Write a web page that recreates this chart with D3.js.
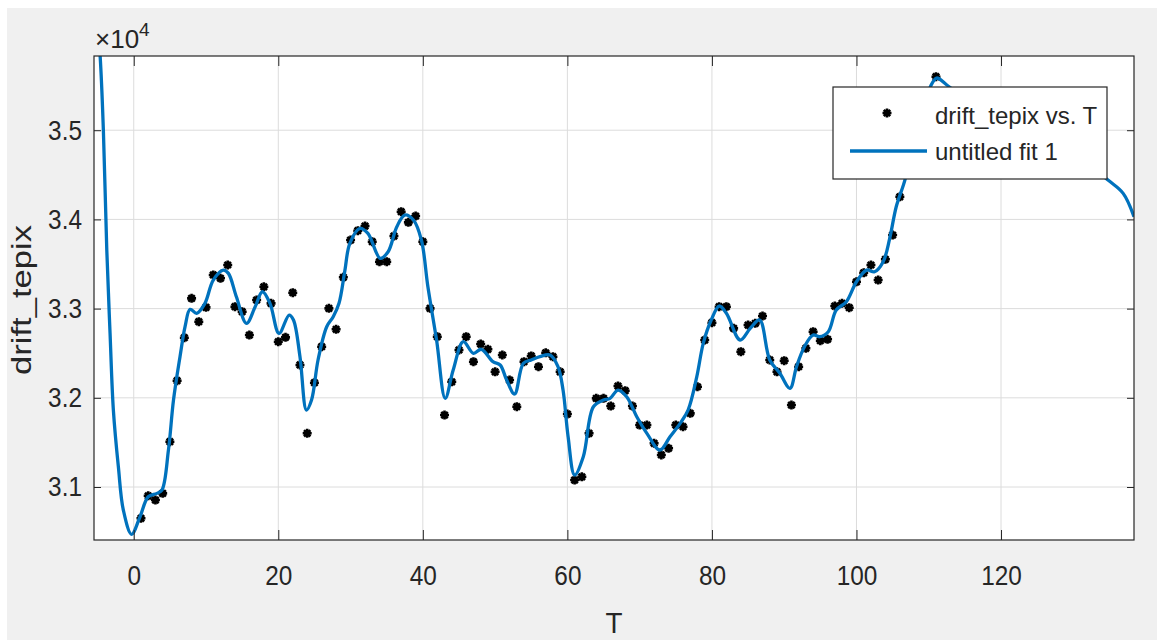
<!DOCTYPE html>
<html lang="en">
<head>
<meta charset="UTF-8">
<title>drift_tepix vs. T</title>
<script src="https://d3js.org/d3.v7.min.js"></script>
<style>
body { margin: 0; background: #ffffff; }
text { font-family: "Liberation Sans", Arial, sans-serif; fill: #262626; }
</style>
</head>
<body>
<div id="chart"></div>
<script>

// measured points (T, drift_tepix)
var tValues = [1,2,3,4,5,6,7,8,9,10,11,12,13,14,15,16,17,18,19,20,
  21,22,23,24,25,26,27,28,29,30,31,32,33,34,35,36,37,38,39,40,
  41,42,43,44,45,46,47,48,49,50,51,52,53,54,55,56,57,58,59,60,
  61,62,63,64,65,66,67,68,69,70,71,72,73,74,75,76,77,78,79,80,
  81,82,83,84,85,86,87,88,89,90,91,92,93,94,95,96,97,98,99,100,
  101,102,103,104,105,106,107,108,109,110,111];
var driftValues = [30649,30902,30854,30929,31508,32192,32674,33115,32853,33014,
  33377,33340,33489,33021,32965,32704,33096,33245,33059,32629,
  32678,33178,32368,31602,32169,32573,33003,32768,33351,33769,
  33873,33926,33750,33526,33526,33814,34086,33967,34038,33750,
  33003,32685,31807,32180,32536,32685,32405,32603,32544,32292,
  32480,32199,31900,32405,32469,32349,32505,32461,32292,31818,
  31078,31115,31602,31994,31994,31908,32132,32080,31908,31695,
  31695,31490,31359,31434,31695,31676,31826,32124,32648,32842,
  33021,33021,32779,32517,32816,32835,32917,32424,32292,32416,
  31919,32349,32555,32741,32640,32656,33029,33059,33010,33301,
  33402,33489,33320,33553,33825,34254,34560,34850,35150,35380,35600];

// fitted curve
var fitT = [-5.5,-4.65,-4.2,-3.73,-3.28,-2.82,-2.13,-1.44,-0.3,0.87,2.0,3.2,3.9,4.8,5.5,6.4,7.1,7.8,8.7,9.85,
  11.0,12.4,13.1,14.2,15.6,16.8,17.8,18.85,20.1,21.5,22.1,23.0,23.9,24.6,25.5,26.7,27.6,28.4,29.2,29.9,
  31.3,32.4,34.1,35.2,36.4,37.5,38.7,39.8,40.7,41.9,43.1,44.2,45.6,47.0,48.1,49.7,50.7,51.6,52.7,53.9,
  55.0,56.2,57.6,58.7,59.4,60.1,61.0,62.2,63.6,65.0,65.9,67.0,68.2,69.6,71.0,72.8,74.2,75.6,76.7,77.9,
  78.8,79.9,81.0,82.0,83.9,85.3,86.6,88.0,89.4,90.8,91.7,92.8,94.0,94.9,96.1,97.2,98.6,100.0,101.4,102.5,
  103.7,104.6,105.5,106.7,108.0,109.5,110.3,111.1,112.5,114,118,124,130,134.8,136.9,138.4];
var fitValues = [36700,35831,34991,33657,32726,31863,31228,30742,30470,30667,30891,30929,30966,31415,31975,32461,32797,32992,32947,33059,
  33320,33432,33395,33133,32835,33021,33189,33059,32723,32928,32872,32461,31863,31975,32424,32797,32909,33060,33420,33732,
  33900,33844,33564,33638,33918,34049,33993,33769,33245,32648,31994,32312,32629,32499,32544,32405,32368,32199,32043,32387,
  32424,32461,32480,32349,32087,31564,31135,31340,31900,31975,31994,32087,32012,31788,31602,31415,31564,31714,31863,32236,
  32611,32872,33029,32947,32648,32779,32872,32424,32275,32106,32349,32573,32704,32685,32741,32984,33077,33301,33432,33413,
  33526,33788,34142,34441,34900,35300,35500,35585,35507,35420,35250,35000,34750,34441,34292,34030];

var xTicks = [0, 20, 40, 60, 80, 100, 120];
var yTicks = [31000, 32000, 33000, 34000, 35000];

var W = 1157, H = 640;
var margin = {top: 56, right: 23, bottom: 100, left: 94};

var svg = d3.select('#chart').append('svg')
  .attr('width', W)
  .attr('height', H);

svg.append('rect')
  .attr('x', 7).attr('y', 8)
  .attr('width', W - 7).attr('height', H - 8)
  .attr('fill', '#f0f0f0');

var x = d3.scaleLinear()
  .domain([-5.5, 138.4])
  .range([margin.left, W - margin.right]);

var y = d3.scaleLinear()
  .domain([30406, 35832])
  .range([H - margin.bottom, margin.top]);

var x0 = x.range()[0], x1 = x.range()[1];
var y0 = y.range()[1], y1 = y.range()[0];

svg.append('rect')
  .attr('x', x0).attr('y', y0)
  .attr('width', x1 - x0).attr('height', y1 - y0)
  .attr('fill', '#ffffff');

// grid
svg.append('g').selectAll('line').data(xTicks).join('line')
  .attr('x1', d => x(d)).attr('x2', d => x(d))
  .attr('y1', y0).attr('y2', y1)
  .attr('stroke', '#dcdcdc').attr('stroke-width', 1);
svg.append('g').selectAll('line').data(yTicks).join('line')
  .attr('x1', x0).attr('x2', x1)
  .attr('y1', d => y(d)).attr('y2', d => y(d))
  .attr('stroke', '#dcdcdc').attr('stroke-width', 1);

svg.append('clipPath').attr('id', 'clip')
  .append('rect')
  .attr('x', x0).attr('y', y0)
  .attr('width', x1 - x0).attr('height', y1 - y0);

var plot = svg.append('g').attr('clip-path', 'url(#clip)');

var star = 'M-4.5,0H4.5M0,-4.5V4.5M-3.2,-3.2L3.2,3.2M-3.2,3.2L3.2,-3.2';

plot.append('g').selectAll('path')
  .data(tValues)
  .join('path')
  .attr('transform', (d, i) => 'translate(' + x(d) + ',' + y(driftValues[i]) + ')')
  .attr('d', star)
  .attr('stroke', '#000000')
  .attr('stroke-width', 2.6)
  .attr('fill', 'none');

var line = d3.line()
  .curve(d3.curveCatmullRom.alpha(0.5))
  .x(d => x(d[0]))
  .y(d => y(d[1]));

plot.append('path')
  .datum(fitT.map((t, i) => [t, fitValues[i]]))
  .attr('fill', 'none')
  .attr('stroke', '#0072bd')
  .attr('stroke-width', 3.3)
  .attr('stroke-linejoin', 'round')
  .attr('d', line);

// axes
function styleAxis(g) {
  g.attr('font-size', null).attr('font-family', null).attr('color', '#262626');
  g.select('.domain').remove();
  g.selectAll('.tick line').attr('stroke-width', 1);
}

svg.append('g')
  .attr('transform', 'translate(0,' + y1 + ')')
  .call(d3.axisBottom(x).tickValues(xTicks).tickSizeInner(-10).tickSizeOuter(0).tickPadding(25))
  .call(styleAxis)
  .selectAll('text').attr('font-size', 28);

svg.append('g')
  .attr('transform', 'translate(0,' + y0 + ')')
  .call(d3.axisTop(x).tickValues(xTicks).tickSizeInner(-10).tickSizeOuter(0).tickFormat(''))
  .call(styleAxis);

svg.append('g')
  .attr('transform', 'translate(' + x0 + ',0)')
  .call(d3.axisLeft(y).tickValues(yTicks).tickSizeInner(-7).tickSizeOuter(0).tickPadding(12)
    .tickFormat(d => d3.format('.1f')(d / 10000)))
  .call(styleAxis)
  .selectAll('text').attr('font-size', 28);

svg.append('g')
  .attr('transform', 'translate(' + x1 + ',0)')
  .call(d3.axisRight(y).tickValues(yTicks).tickSizeInner(-7).tickSizeOuter(0).tickFormat(''))
  .call(styleAxis);

// narrow the tick labels a little
svg.selectAll('.tick text').each(function() {
  var w = this.getComputedTextLength();
  d3.select(this).attr('textLength', w * 0.87).attr('lengthAdjust', 'spacingAndGlyphs');
});

svg.append('rect')
  .attr('x', x0).attr('y', y0)
  .attr('width', x1 - x0).attr('height', y1 - y0)
  .attr('fill', 'none')
  .attr('stroke', '#262626')
  .attr('stroke-width', 1.2);

// exponent
var expo = svg.append('text')
  .attr('x', 95).attr('y', 48)
  .attr('font-size', 26);
expo.append('tspan').text('\u00d710');
expo.append('tspan').attr('font-size', 19).attr('dy', -12).text('4');

// axis titles
svg.append('text')
  .attr('x', (x0 + x1) / 2).attr('y', 633)
  .attr('text-anchor', 'middle')
  .attr('font-size', 30)
  .attr('textLength', 17).attr('lengthAdjust', 'spacingAndGlyphs')
  .text('T');

svg.append('text')
  .attr('transform', 'translate(31,' + 300 + ') rotate(-90)')
  .attr('text-anchor', 'middle')
  .attr('font-size', 27)
  .attr('textLength', 150).attr('lengthAdjust', 'spacingAndGlyphs')
  .text('drift_tepix');

// legend
var legend = svg.append('g');
legend.append('rect')
  .attr('x', 833).attr('y', 87)
  .attr('width', 274).attr('height', 92)
  .attr('fill', '#ffffff')
  .attr('stroke', '#262626')
  .attr('stroke-width', 1.2);

legend.append('path')
  .attr('transform', 'translate(887,113)')
  .attr('d', star)
  .attr('stroke', '#000000')
  .attr('stroke-width', 2.6)
  .attr('fill', 'none');

legend.append('line')
  .attr('x1', 850).attr('x2', 927)
  .attr('y1', 151).attr('y2', 151)
  .attr('stroke', '#0072bd')
  .attr('stroke-width', 3.3);

legend.append('text')
  .attr('x', 935).attr('y', 124)
  .attr('font-size', 24)
  .text('drift_tepix vs. T');

legend.append('text')
  .attr('x', 935).attr('y', 160)
  .attr('font-size', 24)
  .text('untitled fit 1');

</script>
</body>
</html>
